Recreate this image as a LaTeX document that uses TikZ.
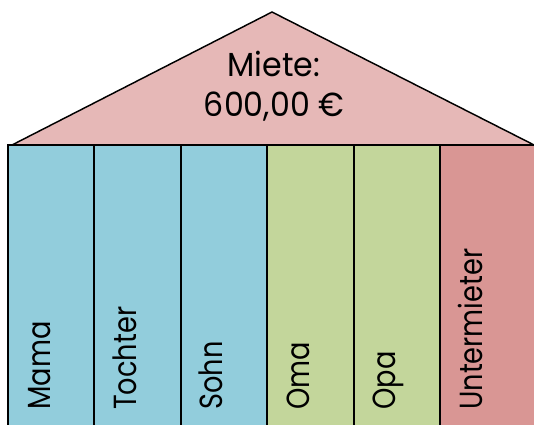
\documentclass[tikz,border=0pt]{standalone}
\usepackage{fontspec}
\setmainfont{Poppins}
\newfontfamily\roomfont[FakeStretch=0.85]{Poppins}
\newfontfamily\rooffont[FakeStretch=0.95]{Poppins}
\definecolor{roofred}{HTML}{E6B8B7}
\definecolor{famblue}{HTML}{92CDDC}
\definecolor{famgreen}{HTML}{C3D69B}
\definecolor{subred}{HTML}{D99694}
\tikzset{
  pillar/.style={line width=1.5pt,draw=black},
  colname/.style={rotate=90,anchor=base west,inner sep=0pt,font=\roomfont\fontsize{24}{29}\selectfont}
}

\begin{document}
\begin{tikzpicture}[x=0.75pt,y=-0.75pt]
            \useasboundingbox (0,0) rectangle (534,424);
            \clip (0,0) rectangle (534,424);
            \coordinate (l) at (12,145);
            \coordinate (r) at (538,147);
            \coordinate (top) at (272,12);

            \draw[line width=1.1pt,fill=roofred](l)--(top)--(r)--cycle;
            \node[align=center,font=\rooffont\fontsize{25}{30}\selectfont] (rent) at (274,86) {Miete:\\600,00 €};

            \foreach \x/\w/\c/\n in {8/86.4/famblue/Mama,94.4/86.4/famblue/Tochter,180.8/86.4/famblue/Sohn,267.2/86.4/famgreen/Oma,353.6/86.4/famgreen/Opa,440/110/subred/Untermieter}{
                \draw[pillar,fill=\c](\x,145)rectangle(\x+\w,440);
                \node[colname] (\n) at (\x+42,410) {\n};
            }
        \end{tikzpicture}
\end{document}
